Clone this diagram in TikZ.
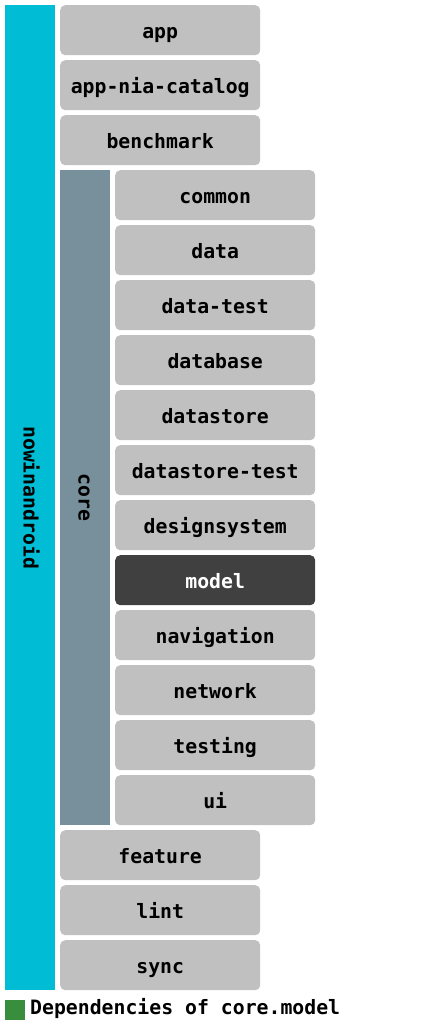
\documentclass[tikz,border=0pt]{standalone}
\usepackage{fontspec}
\newfontfamily\monob{DejaVu Sans Mono}[BoldFont={DejaVu Sans Mono Bold}]
\begin{document}
\begin{tikzpicture}[x=1pt,y=-1pt,
  lblfont/.style={font=\monob\bfseries\fontsize{19.8}{22}\selectfont},
  modbox/.style={fill=boxgray,rounded corners=5pt,draw=none,inner sep=0pt,
     minimum width=200pt,minimum height=50pt,anchor=north west,
     text height=18pt,text depth=1pt,lblfont,text=black},
  selbox/.style={modbox,fill=selgray,text=white},
  groupbar/.style={draw=none,inner sep=0pt,anchor=north west,minimum width=50pt}
]
\definecolor{boxgray}{HTML}{C0C0C0}
\definecolor{selgray}{HTML}{404040}
\definecolor{cyanbar}{HTML}{00BCD4}
\definecolor{corebar}{HTML}{78909C}
\definecolor{legendgreen}{HTML}{388E3C}
\useasboundingbox[fill=white] (0,0) rectangle (430,1026);
\node[groupbar,fill=cyanbar,minimum height=985pt] (nia) at (5,5) {};
\node[rotate=-90,lblfont,inner sep=0pt,text height=15pt,text depth=2pt] (nial) at (nia.center) {nowinandroid};
\node[groupbar,fill=corebar,minimum height=655pt] (core) at (60,170) {};
\node[rotate=-90,lblfont,inner sep=0pt,text height=15pt,text depth=2pt] (corel) at (core.center) {core};
\node[modbox] (app) at (60,5) {app};
\node[modbox] (catalog) at (60,60) {app-nia-catalog};
\node[modbox] (bench) at (60,115) {benchmark};
\node[modbox] (common) at (115,170) {common};
\node[modbox] (data) at (115,225) {data};
\node[modbox] (datatest) at (115,280) {data-test};
\node[modbox] (database) at (115,335) {database};
\node[modbox] (datastore) at (115,390) {datastore};
\node[modbox] (dstest) at (115,445) {datastore-test};
\node[modbox] (design) at (115,500) {designsystem};
\node[selbox] (model) at (115,555) {model};
\node[modbox] (nav) at (115,610) {navigation};
\node[modbox] (network) at (115,665) {network};
\node[modbox] (testing) at (115,720) {testing};
\node[modbox] (ui) at (115,775) {ui};
\node[modbox] (feature) at (60,830) {feature};
\node[modbox] (lint) at (60,885) {lint};
\node[modbox] (sync) at (60,940) {sync};
\node[fill=legendgreen,inner sep=0pt,minimum size=20pt,anchor=north west] (legsq) at (5,1000) {};
\node[anchor=base west,inner sep=0pt,lblfont] (legtxt) at (30,1014) {Dependencies of core.model};
\end{tikzpicture}
\end{document}
